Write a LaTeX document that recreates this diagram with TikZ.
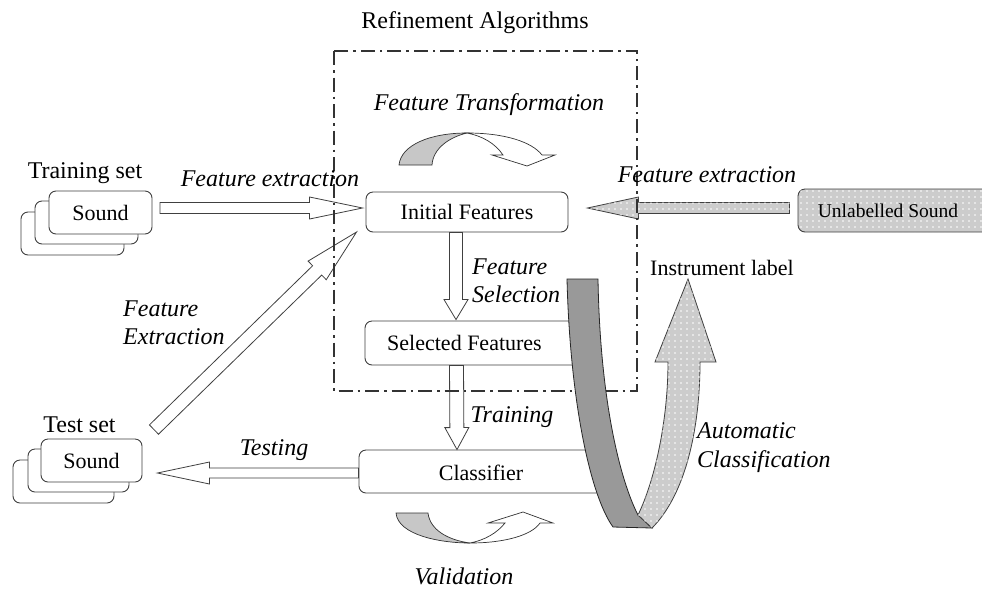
\documentclass[tikz,border=0pt]{standalone}
\usepackage{fontspec}
\setmainfont{Liberation Serif}
\usetikzlibrary{calc,patterns,patterns.meta}

\tikzdeclarepattern{
  name=wdots,
  type=uncolored,
  bottom left={(-0.1pt,-0.1pt)},
  top right={(6.1pt,6.1pt)},
  tile size={(6pt,6pt)},
  code={\fill (3pt,3pt) circle (0.85pt);}
}

\tikzset{
  box/.style={draw=black!75, line width=0.9pt, rounded corners=7pt, fill=white, inner sep=0pt},
  arr/.style={draw=black!75, line width=0.8pt, fill=white, line join=miter},
  dotfill/.style={fill=black!20, postaction={pattern=wdots, pattern color=white}},
  lab/.style={font=\fontsize{24}{28}\selectfont, inner sep=0pt},
  ital/.style={font=\fontsize{24}{28}\selectfont\itshape, inner sep=0pt, align=left},
  boxtxt/.style={font=\fontsize{22}{26}\selectfont, inner sep=0pt},
  dashdotbox/.style={draw=black!80, line width=1.2pt, dash pattern=on 14pt off 5pt on 2.5pt off 5pt},
  curvegray/.style={draw=black!80, line width=0.7pt, fill=black!22},
  curvewhite/.style={draw=black!80, line width=0.7pt, fill=white},
  ribgray/.style={draw=black!85, line width=0.8pt, fill=black!40},
}

% block arrow: #1 style, #2 tail, #3 tip, #4 shaft half width, #5 head half width, #6 head length
\newcommand\blockarr[6]{%
  \coordinate (hb) at ($(#3)!#6!(#2)$);
  \path[#1] ($(#2)!#4!90:(#3)$) -- ($(hb)!#4!90:(#3)$) -- ($(hb)!#5!90:(#3)$) -- (#3)
    -- ($(hb)!#5!-90:(#3)$) -- ($(hb)!#4!-90:(#3)$) -- ($(#2)!#4!-90:(#3)$) -- cycle;
}

\begin{document}
\begin{tikzpicture}[x=1pt,y=-1pt]
\useasboundingbox[fill=white] (0,0) rectangle (982,590);

% ---------- Training set sound stack ----------
\node[box, minimum width=103pt, minimum height=43pt] (tsb) at (72.5,233.5) {};
\node[box, minimum width=103pt, minimum height=43pt] (tsm) at (86.5,222.5) {};
\node[box, minimum width=103pt, minimum height=43pt, boxtxt] (ts) at (100.5,212.5) {Sound};
\node[lab, anchor=base] (tslab) at (85,178) {Training set};

% ---------- Test set sound stack ----------
\node[box, minimum width=101pt, minimum height=43pt] (xsb) at (63.5,481.5) {};
\node[box, minimum width=101pt, minimum height=43pt] (xsm) at (78.5,470.5) {};
\node[box, minimum width=101pt, minimum height=43pt, boxtxt] (xs) at (91.5,460.5) {Sound};
\node[lab, anchor=base] (xslab) at (79.5,432) {Test set};

% ---------- main boxes ----------
\node[box, minimum width=202pt, minimum height=40pt, boxtxt] (init) at (467,212) {Initial Features};
\node[box, minimum width=230pt, minimum height=44pt] (sel) at (480,343) {};
\node[boxtxt] (seltxt) at (464.5,343) {Selected Features};
\node[box, minimum width=246pt, minimum height=43pt] (cls) at (482,471.5) {};
\node[boxtxt] (clstxt) at (481,473) {Classifier};
\node[box, dotfill, minimum width=192pt, minimum height=43pt] (unl) at (894,210.5) {};
\node[font=\fontsize{19.5}{23}\selectfont, inner sep=0pt] (unltxt) at (888,211) {Unlabelled Sound};

% ---------- block arrows ----------
\coordinate (a1s) at ($(ts.east)+(7.5,-4.5)$);
\coordinate (a1e) at ($(init.west)+(-3,-4)$);
\blockarr{arr}{a1s}{a1e}{5.5pt}{11pt}{53pt}

\coordinate (a2s) at ($(unl.west)+(-8,-2.5)$);
\coordinate (a2e) at ($(init.east)+(19,-4)$);
\blockarr{arr,dotfill}{a2s}{a2e}{5.5pt}{11pt}{51pt}

\coordinate (a3s) at ($(init.south)+(-11,0)$);
\coordinate (a3e) at ($(sel.north)+(-24,-1)$);
\blockarr{arr}{a3s}{a3e}{6.5pt}{12pt}{20pt}

\coordinate (a4s) at ($(sel.south)+(-23.5,0)$);
\coordinate (a4e) at ($(cls.north)+(-25,0)$);
\blockarr{arr}{a4s}{a4e}{7pt}{12pt}{22pt}

\coordinate (a5s) at ($(cls.west)+(0,1.5)$);
\coordinate (a5e) at ($(xs.east)+(15,12.5)$);
\blockarr{arr}{a5s}{a5e}{5pt}{11pt}{52pt}

\coordinate (a6s) at ($(xs.north east)+(11.5,-9)$);
\coordinate (a6e) at ($(init.west)+(-9,20)$);
\blockarr{arr}{a6s}{a6e}{6.5pt}{13pt}{55pt}

% ---------- refinement region ----------
\draw[dashdotbox] (334,51) rectangle (637,391);
\node[lab] (title) at (475,23) {Refinement Algorithms};

% ---------- ribbon ----------
\path[ribgray] (567,279) -- (598,279) .. controls (600,400) and (620,480) .. (638,515)
  -- (652,528) -- (613,527) .. controls (590,495) and (570,400) .. (567,279) -- cycle;
\path[arr, dotfill] (638,515) .. controls (655,480) and (668,420) .. (668,362) -- (655,362)
  -- (688,279) -- (716,362) -- (700,362) .. controls (700,430) and (685,495) .. (652,528) -- cycle;

% ---------- feature transformation curved arrow ----------
\path[curvegray] (399,165) .. controls (401,145) and (430,133) .. (467,133)
  .. controls (450,137) and (433,148) .. (432,165) -- cycle;
\path[curvewhite] (467,133) .. controls (505,133) and (532,142) .. (542,155) -- (555,155)
  -- (527,166) -- (492,155) -- (503,155) .. controls (495,143) and (482,136) .. (467,133) -- cycle;

% ---------- validation curved arrow ----------
\path[curvegray] (396,513) -- (428,513) .. controls (430,530) and (448,540) .. (470,543)
  .. controls (440,543) and (398,535) .. (396,513) -- cycle;
\path[curvewhite] (470,543) .. controls (505,543) and (532,535) .. (540,523) -- (553,523)
  -- (523,512) -- (488,523) -- (505,523) .. controls (497,533) and (485,540) .. (470,543) -- cycle;

% ---------- labels ----------
\node[ital, anchor=base] (ftl) at (489,110) {Feature Transformation};
\node[ital, anchor=base] (fel) at (270,186) {Feature extraction};
\node[ital, anchor=base] (fer) at (707,182) {Feature extraction};
\node[ital, anchor=north west] (fsl) at (472,258.5) {Feature\\Selection};
\node[ital, anchor=north west] (fxl) at (123,300.5) {Feature\\Extraction};
\node[ital, anchor=base] (trl) at (512,422) {Training};
\node[ital, anchor=base] (tel) at (274,455) {Testing};
\node[ital, anchor=north west, font=\fontsize{24}{29}\selectfont\itshape] (acl) at (697,422.5) {Automatic\\Classification};
\node[boxtxt, anchor=base] (ill) at (722,275) {Instrument label};
\node[ital, anchor=base] (val) at (464,584) {Validation};
\end{tikzpicture}
\end{document}
